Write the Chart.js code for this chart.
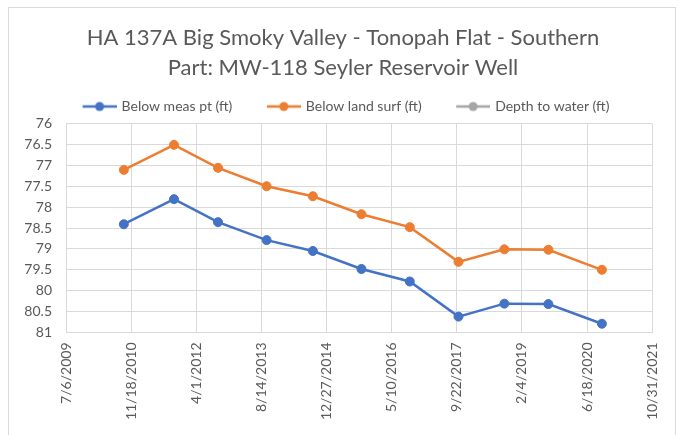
<!DOCTYPE html>
<html>
<head>
<meta charset="utf-8">
<script src="https://cdn.jsdelivr.net/npm/chart.js@4.4.1/dist/chart.umd.min.js"></script>
<style>
  html, body { margin: 0; padding: 0; background: #fff; }
  #wrap { position: relative; width: 679px; height: 435px; overflow: hidden; }
  #frame { position: absolute; left: 8px; top: 7px; width: 668px; height: 440px; border: 1px solid #d9d9d9; box-sizing: border-box; }
  #myChart { position: absolute; left: 0; top: 0; }
</style>
</head>
<body>
<div id="wrap">
  <div id="frame"></div>
  <canvas id="myChart" width="679" height="435"></canvas>
</div>
<script>
const sampleDates = [
  '2010-09-23', '2011-10-13', '2012-09-15', '2013-09-23', '2014-09-13', '2015-09-21',
  '2016-09-26', '2017-10-05', '2018-09-22', '2019-08-26', '2020-10-10'
];
const belowMeasPt = [78.41, 77.81, 78.36, 78.79, 79.05, 79.48, 79.78, 80.62, 80.31, 80.32, 80.79];
const belowLandSurf = [77.11, 76.51, 77.06, 77.50, 77.74, 78.17, 78.48, 79.31, 79.01, 79.02, 79.50];
const depthToWater = [];

const seriesNames = ['Below meas pt (ft)', 'Below land surf (ft)', 'Depth to water (ft)'];
const seriesColors = ['#4472C4', '#ED7D31', '#A5A5A5'];

const xStart = '2009-07-06';
const xStepDays = 500;
const xSteps = 9;

const DAY = 86400000;
const toDay = s => {
  const [y, m, d] = s.split('-').map(Number);
  return Date.UTC(y, m - 1, d) / DAY;
};
const fmtDay = v => {
  const d = new Date(Math.round(v) * DAY);
  return (d.getUTCMonth() + 1) + '/' + d.getUTCDate() + '/' + d.getUTCFullYear();
};

const font = 'Lato';
const gridColor = '#d9d9d9';
const textColor = '#595959';

// legend marker: short line with a dot in the middle
function legendMarker(color) {
  const c = document.createElement('canvas');
  c.width = 42; c.height = 12;
  const g = c.getContext('2d');
  g.strokeStyle = color;
  g.lineWidth = 2.5;
  g.beginPath(); g.moveTo(8, 6); g.lineTo(42, 6); g.stroke();
  g.fillStyle = color;
  g.beginPath(); g.arc(25, 6, 4.5, 0, Math.PI * 2); g.fill();
  return c;
}

const toPoints = vals => vals.map((v, i) => ({ x: toDay(sampleDates[i]), y: v }));
const seriesData = [belowMeasPt, belowLandSurf, depthToWater];

const myChart = new Chart('myChart', {
  type: 'line',
  data: {
    datasets: seriesData.map((vals, i) => ({
      label: seriesNames[i],
      data: toPoints(vals),
      borderColor: seriesColors[i],
      backgroundColor: seriesColors[i],
      pointBackgroundColor: seriesColors[i],
      pointBorderColor: seriesColors[i],
      borderWidth: 2.5,
      pointRadius: 4.5,
      pointBorderWidth: 1,
      tension: 0
    }))
  },
  options: {
    responsive: false,
    animation: false,
    // right padding is negative so title/legend centre lines up; spacer axis restores plot right edge
    layout: { padding: { left: 0, right: -7, top: 0, bottom: 0 } },
    plugins: {
      title: {
        display: true,
        text: ['HA 137A Big Smoky Valley - Tonopah Flat - Southern', 'Part: MW-118 Seyler Reservoir Well'],
        color: textColor,
        font: { family: font, size: 22, weight: 'normal', lineHeight: '30px' },
        padding: { top: 23, bottom: -12 }
      },
      legend: {
        labels: {
          color: textColor,
          font: { family: font, size: 14 },
          usePointStyle: true,
          pointStyleWidth: 38,
          padding: 28.5,
          generateLabels(chart) {
            return chart.data.datasets.map((ds, i) => ({
              text: ds.label,
              pointStyle: legendMarker(seriesColors[i]),
              fontColor: textColor,
              lineWidth: 0,
              strokeStyle: 'transparent',
              fillStyle: 'transparent',
              datasetIndex: i
            }));
          }
        }
      },
      tooltip: { enabled: false }
    },
    scales: {
      x: {
        type: 'linear',
        min: toDay(xStart),
        max: toDay(xStart) + xStepDays * xSteps,
        afterBuildTicks(scale) {
          const t = [];
          for (let k = 0; k <= xSteps; k++) t.push({ value: toDay(xStart) + k * xStepDays });
          scale.ticks = t;
        },
        afterFit(scale) { scale.height = 102.5; },
        grid: { color: gridColor, drawTicks: false },
        border: { color: gridColor },
        ticks: {
          autoSkip: false,
          minRotation: 90,
          maxRotation: 90,
          padding: 10,
          color: textColor,
          font: { family: font, size: 14 },
          callback: v => fmtDay(v)
        }
      },
      y: {
        reverse: true,
        min: 76,
        max: 81,
        afterFit(scale) { scale.width = 66; },
        grid: { color: gridColor, drawTicks: false },
        border: { color: gridColor },
        ticks: {
          stepSize: 0.5,
          padding: 14,
          color: textColor,
          font: { family: font, size: 14 },
          callback: v => String(v)
        }
      },
      spacer: {
        position: 'right',
        grid: { display: false },
        border: { display: false },
        ticks: { display: false },
        afterFit(scale) { scale.width = 29; }
      }
    }
  }
});
</script>
</body>
</html>
